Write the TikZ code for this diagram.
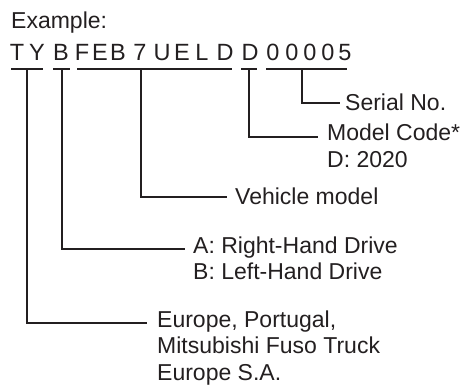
\documentclass[tikz,border=0pt]{standalone}
\usepackage{fontspec}
\setmainfont{Liberation Sans}
\usepackage{xcolor}
\usepackage{tikz}
\usetikzlibrary{positioning}
\definecolor{inkgray}{RGB}{35,31,32}
\tikzstyle{idchar} = [inner sep=0pt, anchor=base, text=inkgray, font=\fontsize{23.5}{26.5}\selectfont]
\tikzstyle{desctext} = [inner sep=0pt, anchor=base west, align=left, text=inkgray, font=\fontsize{23}{26.5}\selectfont]
\tikzstyle{leader} = [line width=1.1pt, color=inkgray]

\begin{document}
\begin{tikzpicture}[x=1pt, y=-1pt]
    \useasboundingbox (0,0) rectangle (465,385);
    \node (example) [desctext] at (11,29) {Example:};
    % chassis number, one letter at a time
    \foreach \ch/\x [count=\i] in {T/17, Y/37, B/61, F/82, E/100, B/118, 7/140, U/162, E/182, L/202, D/225, D/250, 0/273, 0/292, 0/310, 0/328, 5/345}
        \node (c\i) [idchar] at (\x,61) {\ch};
    % underlines
    \draw [leader] (11,69) -- (43,69);
    \draw [leader] (53,69) -- (70,69);
    \draw [leader] (77,69) -- (232,69);
    \draw [leader] (241,69) -- (257,69);
    \draw [leader] (266,69) -- (347,69);
    % taps and leader ends
    \coordinate (tapMaker) at (27,69);
    \coordinate (tapDrive) at (62,69);
    \coordinate (tapModel) at (141,69);
    \coordinate (tapYear) at (249,69);
    \coordinate (tapSerial) at (302,69);
    \coordinate (endMaker) at (147,323);
    \coordinate (endDrive) at (185,249);
    \coordinate (endModel) at (227,197);
    \coordinate (endYear) at (318,137);
    \coordinate (endSerial) at (340,103);
    % descriptions (base = last line)
    \node (serial) [desctext] at (345,110.5) {Serial No.};
    \node (year) [desctext] at (327,167) {Model Code*\\D: 2020};
    \node (model) [desctext] at (235,204) {Vehicle model};
    \node (drive) [desctext] at (193,279.5) {A: Right-Hand Drive\\B: Left-Hand Drive};
    \node (maker) [desctext] at (157,380) {Europe, Portugal,\\Mitsubishi Fuso Truck\\Europe S.A.};
    \draw [leader] (tapSerial) |- (endSerial);
    \draw [leader] (tapYear) |- (endYear);
    \draw [leader] (tapModel) |- (endModel);
    \draw [leader] (tapDrive) |- (endDrive);
    \draw [leader] (tapMaker) |- (endMaker);
\end{tikzpicture}
\end{document}
